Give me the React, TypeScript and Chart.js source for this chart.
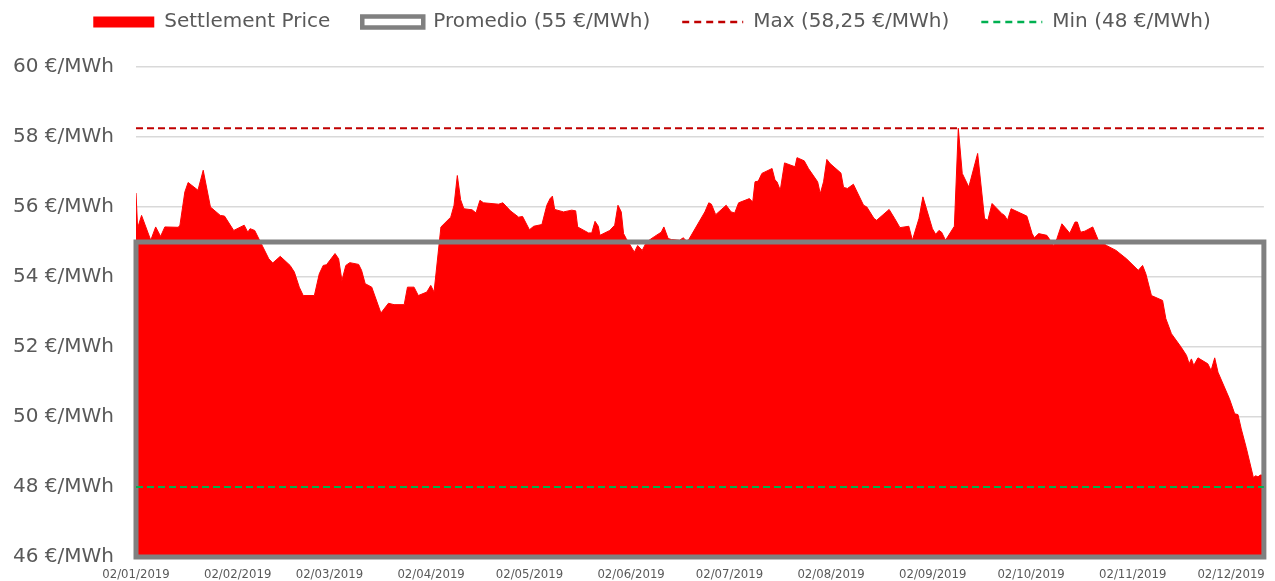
import React, { useEffect, useRef } from 'react';
import { Chart, registerables } from 'chart.js';

Chart.register(...registerables);

// Days elapsed since 02/01/2019 for each settlement observation
const DAYS = [
  0, 0.5, 1.7, 4.5, 6, 7.5, 8.8, 12.9, 13.4, 14.9, 15.9, 18.9, 20.5, 22.7, 25.7, 27, 29.8, 33, 34.1, 34.8,
  36.2, 38.7, 40.5, 41.7, 44, 47, 48.3, 49.8, 51, 54.4, 55.9, 57.1, 58.1, 60.7, 61.8, 62.8, 64, 65.2, 67.9, 68.8,
  69.9, 71.9, 74.7, 77, 78.7, 81.8, 82.8, 84.8, 86.1, 88.7, 89.9, 90.9, 93, 96, 97, 98, 99, 100, 102.5, 103.7,
  104.9, 106, 110.6, 111.9, 114.2, 116.7, 117.9, 120, 121.3, 123.8, 125.3, 126.3, 127, 127.7, 130.4, 132.9, 134.1, 134.7, 138, 139,
  140, 141, 141.5, 144.5, 146, 147, 148, 148.7, 149.5, 152, 153, 154.4, 155.7, 158.2, 160.2, 161, 162.3, 163.3, 165.8, 166.9,
  167.9, 168.6, 173.5, 174.7, 175.5, 176.8, 180, 181.5, 182.6, 183.8, 187.1, 188.1, 188.8, 189.8, 190.9, 194, 194.9, 195.5, 196.5, 197.8,
  201, 201.6, 203.8, 205.1, 207.9, 208.7, 209.7, 210.7, 211.7, 215, 215.8, 217, 218.8, 221.9, 222.9, 225.1, 225.9, 229.7, 231.4, 233,
  235.7, 236.8, 238.8, 240, 242.9, 243.9, 244.9, 245.7, 246.9, 249.6, 250.8, 252, 254, 256.7, 258.8, 259.8, 261.1, 264.1, 264.9, 265.8,
  266.9, 271.7, 273.3, 274, 275.3, 277.8, 279.9, 280.9, 282.4, 284.8, 286.4, 287.1, 288.1, 289.4, 291.8, 293.5, 296, 298.9, 302.1, 305.7,
  307, 308, 309.7, 313.1, 314.1, 315.8, 318.8, 320.4, 321.2, 321.9, 322.6, 323.9, 326.9, 327.9, 329, 330, 333.5, 335.1, 336.1, 337.1,
  338.6, 340.8, 341.5, 342.2, 342.9, 344,
];

// Settlement price (€/MWh)
const PRICES = [
  56.4, 55.4, 55.76, 55.05, 55.43, 55.16, 55.43, 55.42, 55.48, 56.43, 56.7, 56.48, 57.05, 56.0, 55.76, 55.74, 55.33, 55.48, 55.28, 55.38,
  55.33, 54.86, 54.52, 54.4, 54.59, 54.33, 54.14, 53.71, 53.47, 53.47, 54.09, 54.33, 54.35, 54.67, 54.52, 53.9, 54.33, 54.41, 54.36, 54.19,
  53.81, 53.71, 52.97, 53.25, 53.21, 53.21, 53.71, 53.71, 53.47, 53.57, 53.76, 53.57, 55.43, 55.71, 56.05, 56.9, 56.21, 55.95, 55.92, 55.83,
  56.19, 56.12, 56.08, 56.12, 55.89, 55.71, 55.73, 55.35, 55.45, 55.5, 56.05, 56.24, 56.31, 55.93, 55.86, 55.91, 55.89, 55.43, 55.26, 55.26,
  55.59, 55.45, 55.19, 55.33, 55.48, 56.05, 55.86, 55.24, 55.1, 54.71, 54.9, 54.76, 55.0, 55.16, 55.28, 55.43, 55.1, 55.07, 55.05, 55.12,
  55.03, 55.07, 55.86, 56.12, 56.08, 55.78, 56.05, 55.86, 55.83, 56.12, 56.24, 56.14, 56.72, 56.74, 56.96, 57.1, 56.77, 56.72, 56.48, 57.26,
  57.15, 57.41, 57.32, 57.1, 56.72, 56.38, 56.72, 57.36, 57.24, 56.97, 56.56, 56.53, 56.65, 56.05, 56.0, 55.67, 55.62, 55.93, 55.67, 55.41,
  55.45, 55.05, 55.67, 56.29, 55.38, 55.22, 55.33, 55.28, 55.05, 55.45, 58.25, 56.96, 56.57, 57.53, 55.67, 55.62, 56.1, 55.81, 55.76, 55.62,
  55.95, 55.74, 55.24, 55.12, 55.24, 55.19, 54.9, 55.1, 55.52, 55.25, 55.57, 55.57, 55.28, 55.31, 55.43, 55.05, 54.9, 54.76, 54.52, 54.19,
  54.33, 54.09, 53.47, 53.33, 52.81, 52.38, 51.99, 51.76, 51.52, 51.66, 51.47, 51.69, 51.52, 51.33, 51.69, 51.28, 50.52, 50.09, 50.07, 49.66,
  49.13, 48.27, 48.32, 48.29, 48.34, 48.34,
];

const TICK_DAYS = [0, 31, 59, 90, 120, 151, 181, 212, 243, 273, 304, 334];
const TICK_LABELS = [
  '02/01/2019', '02/02/2019', '02/03/2019', '02/04/2019', '02/05/2019', '02/06/2019',
  '02/07/2019', '02/08/2019', '02/09/2019', '02/10/2019', '02/11/2019', '02/12/2019',
];

const Y_MIN = 46;
const Y_MAX = 60;
const Y_STEP = 2;
const FIRST_DAY = 0;
const LAST_DAY = 344;
const PROMEDIO = 55;
const MAX_PRICE = 58.25;
const MIN_PRICE = 48;
const SERIES_LABELS = ['Settlement Price', 'Promedio (55 €/MWh)', 'Max (58,25 €/MWh)', 'Min (48 €/MWh)'];

const TEXT = '#595959';
const FONT_MAIN = "'DejaVu Sans', sans-serif";
const FONT_X = "'DejaVu Sans Condensed', 'DejaVu Sans', sans-serif";

const W = 1275;
const H = 581;

export default function App() {
  const ref = useRef<HTMLCanvasElement>(null);

  useEffect(() => {
    if (!ref.current) return;

    const legendSpacer = {
      id: 'legendSpacer',
      beforeLayout(chart: any) {
        const lg = chart.legend;
        if (lg && !lg.__patched) {
          const orig = lg.fit.bind(lg);
          lg.fit = function () {
            orig();
            this.height = 87;
          };
          lg.__patched = true;
        }
      },
      afterLayout(chart: any) {
        const lg = chart.legend;
        if (lg) {
          lg.left += 18;
          lg.right += 18;
        }
      },
    };

    const legendStyles = [
      { pointStyle: 'rect', fillStyle: '#FF0000', strokeStyle: '#FF0000', lineWidth: 0, lineDash: [] },
      { pointStyle: 'rect', fillStyle: '#FFFFFF', strokeStyle: '#808080', lineWidth: 4.5, lineDash: [] },
      { pointStyle: 'line', fillStyle: '#C00000', strokeStyle: '#C00000', lineWidth: 2.5, lineDash: [7, 5] },
      { pointStyle: 'line', fillStyle: '#00B050', strokeStyle: '#00B050', lineWidth: 2.5, lineDash: [7, 5] },
    ];

    const chart = new Chart(ref.current, {
      type: 'line',
      data: {
        datasets: [
          {
            label: SERIES_LABELS[0],
            data: DAYS.map((d, i) => ({ x: d, y: PRICES[i] })),
            borderColor: '#FF0000',
            backgroundColor: '#FF0000',
            borderWidth: 1,
            fill: 'start',
            pointRadius: 0,
            tension: 0,
            order: 4,
          },
          {
            label: SERIES_LABELS[1],
            data: [
              { x: FIRST_DAY, y: Y_MIN },
              { x: FIRST_DAY, y: PROMEDIO },
              { x: LAST_DAY, y: PROMEDIO },
              { x: LAST_DAY, y: Y_MIN },
              { x: FIRST_DAY, y: Y_MIN },
            ],
            borderColor: '#808080',
            backgroundColor: 'rgba(0,0,0,0)',
            borderWidth: 5,
            borderCapStyle: 'square',
            borderJoinStyle: 'miter',
            fill: false,
            pointRadius: 0,
            tension: 0,
            clip: false,
            order: 3,
          },
          {
            label: SERIES_LABELS[2],
            data: [
              { x: FIRST_DAY, y: MAX_PRICE },
              { x: LAST_DAY, y: MAX_PRICE },
            ],
            borderColor: '#C00000',
            borderWidth: 2,
            borderDash: [7, 4],
            fill: false,
            pointRadius: 0,
            order: 2,
          },
          {
            label: SERIES_LABELS[3],
            data: [
              { x: FIRST_DAY, y: MIN_PRICE },
              { x: LAST_DAY, y: MIN_PRICE },
            ],
            borderColor: '#00B050',
            borderWidth: 2,
            borderDash: [7, 4],
            fill: false,
            pointRadius: 0,
            order: 1,
          },
        ],
      } as any,
      options: {
        animation: false,
        responsive: false,
        maintainAspectRatio: false,
        devicePixelRatio: 1,
        events: [],
        layout: { padding: { left: 0, right: 7, top: -20, bottom: 0 } },
        plugins: {
          tooltip: { enabled: false },
          legend: {
            display: true,
            position: 'top',
            align: 'center',
            labels: {
              usePointStyle: true,
              pointStyleWidth: 61,
              boxWidth: 61,
              boxHeight: 11,
              padding: 32,
              color: TEXT,
              font: { family: FONT_MAIN, size: 20 },
              generateLabels: (c: any) =>
                c.data.datasets.map((ds: any, i: number) => ({
                  text: ds.label,
                  datasetIndex: i,
                  hidden: false,
                  rotation: 0,
                  fontColor: TEXT,
                  ...legendStyles[i],
                })),
            },
          },
        },
        scales: {
          x: {
            type: 'linear',
            min: FIRST_DAY,
            max: LAST_DAY,
            afterBuildTicks: (s: any) => {
              s.ticks = TICK_DAYS.map((v) => ({ value: v }));
            },
            afterFit: (s: any) => {
              s.height = 24;
            },
            ticks: {
              autoSkip: false,
              maxRotation: 0,
              minRotation: 0,
              padding: 10,
              color: TEXT,
              font: { family: FONT_X, size: 13 },
              callback: (v: any) => {
                const i = TICK_DAYS.indexOf(Number(v));
                return i >= 0 ? TICK_LABELS[i] : '';
              },
            },
            grid: { display: false, drawTicks: false },
            border: { display: false },
          },
          y: {
            min: Y_MIN,
            max: Y_MAX,
            afterFit: (s: any) => {
              s.width = 136;
              s.paddingTop = 12;
              s.paddingBottom = 12;
            },
            ticks: {
              stepSize: Y_STEP,
              padding: 22,
              color: TEXT,
              font: { family: FONT_MAIN, size: 20 },
              callback: (v: any) => `${v} €/MWh`,
            },
            grid: { color: '#d9d9d9', lineWidth: 1.5, drawTicks: false },
            border: { display: false },
          },
        },
      } as any,
      plugins: [legendSpacer],
    });

    return () => chart.destroy();
  }, []);

  return (
    <div style={{ position: 'fixed', left: 0, top: 0, width: W, height: H, background: '#fff' }}>
      <canvas ref={ref} width={W} height={H} style={{ display: 'block', width: W, height: H }} />
    </div>
  );
}
